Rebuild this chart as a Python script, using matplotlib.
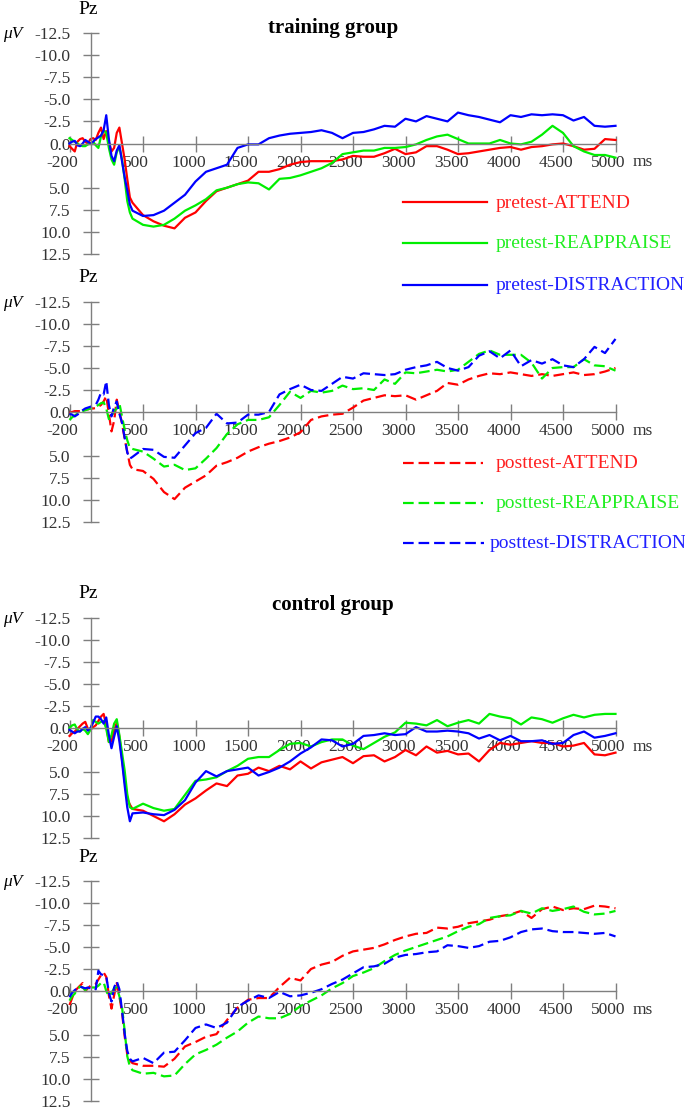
import numpy as np
import matplotlib
matplotlib.use("Agg")
import matplotlib.pyplot as plt
from matplotlib.lines import Line2D
from matplotlib.transforms import ScaledTranslation

plt.rcParams['font.family'] = ['Liberation Serif', 'DejaVu Serif']

# sample times (ms): 25 ms steps over the early components, 100 ms afterwards
times = np.r_[np.arange(-200, 400, 25), np.arange(400, 5001, 100)]

# training group, pretest (uV)
tr_pre_att = [0.3, 0.6, 0.9, -0.2, -0.5, -0.6, -0.2, 0.0, -0.5, -0.6, -0.4, -1.2, -1.8, -0.5, -1.4, -0.2, 0.9, 0.5, -1.2, -1.8, 0.0, 1.8, 4.0, 6.1,
              6.7, 8.1, 8.8, 9.3, 9.6, 8.4, 7.8, 6.5, 5.4, 5.0, 4.6, 4.2, 3.2, 3.2, 2.9, 2.4, 2.1, 2.0, 2.0, 2.0, 1.8, 1.4, 1.5, 1.5, 1.1, 0.6,
              1.2, 1.0, 0.3, 0.3, 0.7, 1.2, 1.1, 0.9, 0.7, 0.5, 0.4, 0.7, 0.4, 0.3, 0.1, 0.0, 0.3, 0.7, 0.6, -0.5, -0.4]
tr_pre_rea = [-0.6, -0.4, -0.2, 0.0, 0.2, 0.3, 0.3, 0.1, 0.0, -0.2, 0.2, 0.5, -0.8, -1.5, -1.2, 0.5, 1.8, 2.4, 1.0, 0.4, 1.8, 4.0, 6.5, 7.8,
              8.5, 9.2, 9.4, 9.2, 8.5, 7.6, 7.0, 6.3, 5.3, 5.0, 4.6, 4.4, 4.5, 5.2, 4.0, 3.9, 3.6, 3.2, 2.8, 2.2, 1.2, 1.0, 0.8, 0.8, 0.5, 0.5,
              0.4, 0.1, -0.4, -0.8, -1.0, -0.5, 0.0, 0.0, 0.0, -0.4, 0.0, 0.1, -0.2, -1.0, -2.0, -1.2, 0.3, 0.9, 1.3, 1.3, 1.6]
tr_pre_dis = [0.0, -0.2, -0.3, 0.2, 0.3, 0.0, -0.4, -0.2, 0.0, -0.2, -0.5, -0.7, -0.9, -1.5, -3.2, -0.5, 1.4, 2.0, 0.8, 0.2, 2.0, 3.8, 5.3, 6.9,
              7.6, 8.2, 8.1, 7.6, 6.7, 5.8, 4.3, 3.2, 2.8, 2.4, 0.5, 0.1, 0.1, -0.6, -0.9, -1.1, -1.2, -1.3, -1.5, -1.2, -0.6, -1.2, -1.3, -1.6, -2.0, -1.9,
              -2.8, -2.5, -3.1, -2.8, -2.5, -3.5, -3.2, -3.0, -2.7, -2.4, -3.2, -3.0, -3.3, -3.2, -3.3, -3.2, -2.6, -3.0, -2.0, -1.9, -2.0]

# training group, posttest
tr_post_att = [0.1, 0.0, -0.1, -0.1, -0.1, -0.2, -0.3, -0.3, -0.4, -0.4, -0.45, -0.6, -0.8, -1.2, -1.8, 0.2, 2.2, 1.0, -1.4, -0.1, 1.3, 3.0, 4.5, 6.0,
               6.5, 6.7, 7.6, 9.1, 9.9, 8.6, 7.9, 7.2, 6.1, 5.7, 5.2, 4.5, 4.0, 3.6, 3.3, 2.9, 2.3, 0.9, 0.5, 0.3, 0.2, -0.5, -1.3, -1.6, -1.9, -1.8,
               -1.9, -1.4, -1.9, -2.4, -3.3, -3.1, -3.7, -4.1, -4.4, -4.3, -4.5, -4.3, -4.1, -4.3, -4.1, -4.3, -4.5, -4.2, -4.3, -4.6, -5.0]
tr_post_rea = [0.9, 0.6, 0.4, 0.2, 0.0, -0.1, -0.2, -0.3, -0.4, -0.5, -0.6, -0.8, -1.0, -1.1, -0.4, 0.8, 0.5, -0.1, -0.4, -1.0, 0.5, 2.0, 3.2, 4.1,
               4.2, 4.5, 5.3, 6.2, 6.0, 6.6, 6.4, 5.3, 4.1, 2.5, 1.4, 0.9, 0.9, 0.6, -0.8, -2.3, -1.6, -2.4, -2.2, -2.4, -3.0, -2.6, -2.7, -2.5, -3.7, -3.2,
               -4.5, -4.4, -4.6, -4.8, -4.6, -4.8, -5.7, -6.6, -7.0, -6.5, -6.5, -6.5, -5.6, -3.8, -5.0, -5.1, -5.1, -6.0, -5.3, -5.2, -4.7]
tr_post_dis = [0.2, 0.3, 0.5, 0.3, 0.1, -0.2, -0.4, -0.5, -0.6, -0.7, -0.8, -1.4, -2.2, -2.0, -3.5, -0.8, 0.5, -0.6, -1.2, 0.2, 1.2, 2.9, 4.6, 5.3,
               5.1, 4.2, 4.3, 5.1, 5.2, 3.8, 2.4, 1.8, 0.2, 1.3, 1.2, 0.3, 0.3, 0.0, -2.0, -2.6, -3.1, -2.5, -2.4, -3.2, -4.0, -3.8, -4.4, -4.3, -4.2, -4.3,
               -4.8, -5.1, -5.3, -5.7, -5.0, -4.7, -5.1, -6.4, -6.9, -6.1, -7.0, -5.2, -5.9, -5.5, -6.0, -5.3, -5.1, -6.0, -7.4, -6.7, -8.3]

# control group, pretest
ct_pre_att = [0.9, 0.6, 0.4, 0.1, -0.2, -0.5, -0.7, 0.1, 0.2, -0.1, -0.3, -0.8, -1.3, -1.6, -0.3, 1.6, 1.5, 0.3, -0.6, 1.0, 3.5, 6.0, 8.0, 8.7,
              9.2, 9.4, 10.0, 10.6, 9.8, 8.7, 8.0, 7.1, 6.3, 6.6, 5.4, 5.2, 4.5, 4.9, 4.3, 4.7, 3.8, 4.6, 3.9, 3.6, 3.3, 4.0, 3.2, 3.1, 3.8, 3.3,
              2.5, 3.1, 2.1, 2.8, 2.6, 3.0, 2.9, 3.8, 2.5, 1.7, 1.9, 1.7, 1.5, 1.7, 1.7, 2.1, 2.0, 1.7, 3.0, 3.1, 2.8]
ct_pre_rea = [0.0, -0.3, -0.4, 0.2, 0.4, 0.1, 0.3, 0.7, 0.2, -0.9, -0.7, -0.5, -0.7, -0.8, 0.1, 1.6, 0.8, -0.5, -1.0, 0.8, 2.8, 4.8, 7.5, 9.0,
              9.2, 8.6, 9.1, 9.4, 9.2, 7.6, 6.0, 5.85, 5.6, 4.9, 4.3, 3.5, 3.3, 3.3, 2.5, 1.8, 1.7, 2.1, 1.6, 1.3, 1.3, 2.0, 2.4, 1.7, 1.0, 0.5,
              -0.6, -0.5, -0.3, -0.9, -0.2, -0.6, -0.9, -0.5, -1.6, -1.3, -1.1, -0.4, -1.2, -1.0, -0.6, -1.1, -1.5, -1.2, -1.5, -1.6, -1.6]
ct_pre_dis = [0.2, 0.4, 0.6, 0.4, 0.4, 0.1, -0.1, 0.3, 0.0, -0.6, -1.3, -1.3, -1.0, -0.5, -1.2, 0.8, 2.3, 1.0, -0.2, 1.5, 3.8, 6.5, 9.0, 10.6,
              9.7, 9.6, 9.8, 9.9, 9.3, 8.2, 6.2, 4.9, 5.5, 4.9, 4.7, 4.5, 5.4, 5.0, 4.5, 3.8, 2.9, 2.2, 1.3, 1.4, 2.1, 1.8, 0.9, 0.8, 0.6, 0.8,
              0.7, -0.1, 0.4, 0.4, 0.3, 0.4, 0.6, 1.2, 0.8, 1.4, 0.9, 1.5, 1.5, 1.4, 1.8, 1.7, 0.8, 0.4, 1.1, 0.9, 0.6]

# control group, posttest
ct_post_att = [1.6, 0.8, 0.0, -0.3, -0.6, -0.9, 0.0, -0.3, -0.6, -0.7, -0.8, -1.3, -1.8, -2.1, -1.6, 0.5, 2.0, 0.5, -0.9, 0.6, 2.4, 5.1, 7.2, 7.9,
               8.2, 8.5, 8.5, 8.6, 7.7, 6.3, 5.8, 5.2, 4.9, 3.3, 1.9, 1.0, 0.8, 0.8, -0.45, -1.5, -1.2, -2.5, -3.0, -3.3, -4.0, -4.5, -4.7, -4.9, -5.3, -5.8,
               -6.2, -6.5, -6.6, -7.2, -7.1, -7.3, -7.7, -7.9, -8.1, -8.5, -8.7, -9.1, -8.3, -9.3, -9.6, -9.2, -9.4, -9.3, -9.7, -9.6, -9.4]
ct_post_rea = [1.1, 0.6, 0.3, -0.2, -0.5, -0.4, -0.1, -0.3, -0.4, -0.4, -0.4, -0.6, -0.9, -1.0, 0.0, 0.6, 0.2, -0.3, -0.4, 0.6, 1.8, 4.5, 7.4, 8.6,
               9.0, 9.4, 9.3, 9.7, 9.6, 8.3, 7.2, 6.7, 6.1, 5.3, 4.6, 3.6, 2.9, 3.1, 3.1, 2.6, 1.7, 1.1, 0.5, -0.3, -0.9, -1.7, -2.1, -2.6, -3.4, -4.1,
               -4.6, -5.0, -5.4, -5.8, -6.2, -6.8, -7.3, -7.6, -8.3, -8.5, -8.6, -9.1, -8.8, -9.4, -9.1, -9.3, -9.6, -9.0, -8.7, -8.8, -9.1]
ct_post_dis = [0.7, 0.2, -0.1, -0.3, -0.5, -0.4, -0.3, -0.4, -0.3, -0.4, -0.2, -2.3, -1.9, -1.8, -1.7, 0.2, 1.2, -0.4, -1.1, -0.2, 2.2, 4.8, 6.8, 7.7,
               8.0, 7.6, 8.2, 7.0, 6.9, 5.6, 4.2, 3.8, 4.2, 3.6, 1.8, 1.1, 0.5, 0.8, 0.1, 0.6, 0.5, 0.2, -0.2, -0.8, -1.3, -2.0, -2.7, -2.8, -3.1, -3.8,
               -4.1, -4.2, -4.4, -4.5, -5.2, -5.1, -4.9, -5.1, -5.6, -5.7, -6.1, -6.7, -7.0, -7.1, -6.8, -6.7, -6.7, -6.6, -6.5, -6.6, -6.2]

conditions = ['ATTEND', 'REAPPRAISE', 'DISTRACTION']
colors = ['#ff0000', '#00ee00', '#0000ff']
text_colors = ['#ff2020', '#22ee22', '#2020ff']

W, H = 685, 1111
AXIS_GRAY = '#7f7f7f'
DASH = (0, (4.8, 2.2))


def fx(x):
    return x / W


def fy(y):
    return 1 - y / H


def draw_panel(fig, top, bottom, series, dashed):
    # axes box in pixels: x from -200 ms (69.5 px) to 5000 ms (615.5 px)
    ax = fig.add_axes([fx(69.5), fy(bottom), 546 / W, (bottom - top) / H])
    ax.set_xlim(-200, 5000)
    ax.set_ylim(12.5, -12.5)
    for s in ['top', 'right']:
        ax.spines[s].set_visible(False)
    ax.spines['left'].set_position(('data', 0))
    ax.spines['bottom'].set_position(('data', 0))
    for s in ['left', 'bottom']:
        ax.spines[s].set_color(AXIS_GRAY)
        ax.spines[s].set_linewidth(1.0)
    ax.patch.set_alpha(0)

    xt = [-200] + list(range(500, 5001, 500))
    ax.set_xticks(xt)
    ax.set_xticklabels([str(v) for v in xt])
    yt = [-12.5, -10, -7.5, -5, -2.5, 0, 5, 7.5, 10, 12.5]
    ax.set_yticks(yt)
    ax.set_yticklabels(['%.1f' % v for v in yt])
    ax.tick_params(direction='inout', length=11.5, width=1.0, color=AXIS_GRAY,
                   labelsize=12.5, labelcolor='#333333')
    ax.tick_params(axis='y', pad=8.5)
    ax.tick_params(axis='x', pad=2.5)
    shift = ScaledTranslation(-0.07, 0, fig.dpi_scale_trans)
    for lab in ax.get_xticklabels():
        lab.set_transform(lab.get_transform() + shift)

    for vals, c in zip(series, colors):
        if dashed:
            ax.plot(times, vals, color=c, lw=1.6, linestyle=DASH, clip_on=False)
        else:
            ax.plot(times, vals, color=c, lw=1.6, clip_on=False)

    zero_y = (top + bottom) / 2
    fig.text(fx(88), fy(top - 24), 'Pz', ha='center', va='center', fontsize=14)
    fig.text(fx(13), fy(top + 1), 'μV', ha='center', va='center', fontsize=12.5,
             style='italic')
    fig.text(fx(633), fy(zero_y + 19), 'ms', ha='left', va='center', fontsize=12.5,
             color='#333333')
    return ax


def draw_legend(fig, ys, prefix, dashed):
    for i, (y, name) in enumerate(zip(ys, conditions)):
        ls = DASH if dashed else '-'
        x_text = 496
        x_end = 487
        if dashed and name == 'DISTRACTION':
            x_text = 490
            x_end = 484
        elif dashed:
            x_end = 483
        fig.add_artist(Line2D([fx(403), fx(x_end)], [fy(y), fy(y)], color=colors[i],
                              lw=1.6, linestyle=ls, transform=fig.transFigure))
        fig.text(fx(x_text), fy(y + 1), prefix + '-' + name, ha='left', va='center',
                 fontsize=14, color=text_colors[i])


fig = plt.figure(figsize=(6.85, 11.11), dpi=100)

draw_panel(fig, 33, 254, [tr_pre_att, tr_pre_rea, tr_pre_dis], False)
draw_panel(fig, 302, 522, [tr_post_att, tr_post_rea, tr_post_dis], True)
draw_panel(fig, 618, 838, [ct_pre_att, ct_pre_rea, ct_pre_dis], False)
draw_panel(fig, 881, 1101, [ct_post_att, ct_post_rea, ct_post_dis], True)

fig.text(fx(333), fy(28), 'training group', ha='center', va='center',
         fontsize=15, fontweight='bold')
fig.text(fx(333), fy(605), 'control group', ha='center', va='center',
         fontsize=15, fontweight='bold')

draw_legend(fig, [202, 243, 285], 'pretest', False)
draw_legend(fig, [463, 503, 543], 'posttest', True)

fig.savefig('out.png', dpi=100)
